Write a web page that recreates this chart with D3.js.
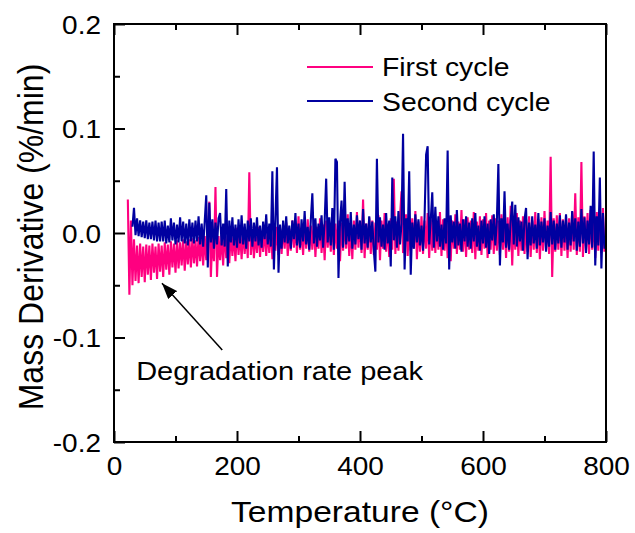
<!DOCTYPE html>
<html><head><meta charset="utf-8">
<script src="https://cdn.jsdelivr.net/npm/d3@7"></script>
<style>
body{margin:0;background:#fff}
svg{display:block;font-family:"Liberation Sans",Arial,sans-serif}
</style>
</head><body><svg id="c" width="635" height="533"></svg>
<script>
// ---------------- data ----------------
const seriesNames = ["First cycle", "Second cycle"];
const seriesColors = ["#FF0080", "#0000A0"];
const firstCycleStartT = 22.5;   // °C, first sample of first cycle
const secondCycleStartT = 30;    // °C, first sample of second cycle
const sampleStepT = 2.5;         // °C between samples

// Mass derivative (%/min), first cycle
const firstCycle = [
 .032,-.059,.012,-.050,-.006,-.046,-.012,-.048,-.010,-.042,-.013,-.047,-.011,-.040,-.012,-.045,-.010,-.038,-.013,-.044,
 -.010,-.037,-.012,-.042,-.009,-.035,-.011,-.040,-.008,-.033,-.010,-.038,-.007,-.034,-.009,-.031,-.006,-.036,-.008,-.030,
 -.006,-.033,-.005,-.029,-.007,-.032,-.004,-.027,-.006,-.031,-.003,-.026,-.005,.030,-.042,-.004,-.027,.044,-.042,-.003,
 -.026,-.002,-.031,.004,-.024,-.003,-.029,.002,-.022,.000,-.027,.005,-.021,-.001,-.025,.003,-.020,.001,-.024,.058,
 -.021,.004,-.024,.000,-.019,.006,-.023,.002,-.018,.005,-.022,.003,-.019,.007,-.025,.002,-.017,.006,-.021,.004,
 -.020,.006,-.015,.010,-.022,.004,-.017,.012,-.014,.008,-.019,.016,-.016,.005,-.021,.009,-.015,.013,-.018,.007,
 -.016,.011,-.023,.006,-.015,.014,-.019,.008,-.026,.012,-.014,.010,-.018,.017,-.021,.009,-.015,.012,-.027,.010,
 -.017,.013,-.015,.018,-.022,.008,-.025,.012,-.016,.020,-.014,.011,-.019,.032,-.024,.009,-.016,.015,-.020,.012,
 -.021,.010,-.016,.017,-.026,.012,-.015,.019,-.018,.009,-.023,.014,-.016,.052,-.020,.011,-.017,.015,.040,-.019,
 -.016,.018,-.022,.010,-.017,.014,-.015,.021,-.025,.011,-.018,.016,-.020,.012,-.015,.019,-.024,.013,-.017,.015,
 -.019,.011,-.016,.020,-.022,.013,-.017,.010,-.024,.016,-.027,.012,-.015,.018,-.020,.011,-.016,.022,-.018,.013,
 -.023,.015,-.016,.012,-.019,.020,-.025,.011,-.017,.016,-.021,.013,-.015,.019,-.024,.012,-.016,.017,-.020,.014,
 -.017,.012,-.021,.018,-.016,.013,-.024,.015,-.018,.026,-.031,.014,-.016,.019,-.022,.012,-.017,.016,-.020,.013,
 -.018,.016,-.023,.012,-.016,.020,-.019,.013,-.025,.015,-.017,.021,-.016,.012,-.020,.073,-.042,.014,-.018,.017,
 -.016,.019,-.022,.013,-.017,.016,-.024,.014,-.018,.020,-.016,.038,-.021,.015,-.018,.068,-.023,.016,-.017,.019,
 -.020,.022,-.016,.018,-.024,.020,-.017,.021,-.019,.024,-.018
];

// Mass derivative (%/min), second cycle
const secondCycle = [
 .006,.024,-.002,.014,-.003,.012,-.004,.011,-.005,.012,-.006,.010,-.006,.011,-.007,.012,-.008,.010,-.008,.011,
 -.008,.012,-.010,.007,-.009,.014,-.007,.010,-.011,.008,-.009,.015,-.008,.011,-.010,.009,-.012,.013,-.008,.010,
 -.010,.012,-.008,.016,-.011,.009,-.013,.011,.036,-.033,.029,-.009,.013,-.015,.010,-.011,.014,.019,-.012,.009,
 -.013,.042,-.032,.012,-.009,.015,-.012,.008,-.014,.013,-.010,.017,-.011,.009,-.015,.012,-.008,.014,-.013,.010,
 -.008,.015,-.012,.007,-.014,.011,-.006,.018,-.011,.009,-.013,.059,-.035,.014,.063,-.038,.008,-.015,.012,-.009,
 .016,-.010,.007,-.015,.012,-.006,.019,-.012,.009,-.014,.013,-.008,.021,-.011,.006,-.016,.012,.038,-.010,.014,
 -.013,.009,-.007,.017,-.014,.011,.052,-.009,.015,-.012,.024,-.016,.071,.068,-.043,.010,.031,-.014,.049,-.011,
 .014,-.008,.020,-.015,.008,-.011,.017,-.006,.012,-.016,.023,-.010,.009,-.014,.016,-.009,.011,-.017,-.037,.071,
 -.009,.015,-.013,.008,-.016,.019,-.010,.012,-.032,.053,-.007,.016,-.014,.021,-.011,.009,.095,-.035,.014,-.008,
 .059,-.040,.010,-.015,.018,-.009,.013,-.012,.007,-.017,.015,.075,.083,-.011,.012,.039,-.014,.025,-.008,.016,
 -.013,.008,-.016,.014,-.010,.079,-.035,.017,-.009,.011,-.015,.022,-.012,.009,-.018,.013,-.008,.016,-.013,.010,
 -.015,.014,-.008,.019,-.013,.007,-.017,.012,-.010,.016,-.014,.009,-.020,.013,-.007,.018,-.012,.011,.066,-.031,
 .014,-.009,.040,-.014,.009,-.016,.012,.030,-.011,.027,-.013,.015,-.008,.011,-.017,.013,.024,-.025,.010,-.012,
 .016,-.010,.008,-.015,.019,-.012,.011,-.009,.014,-.018,.007,-.013,.020,-.011,.012,-.016,.009,-.010,.017,-.014,
 .012,-.009,.018,-.016,.010,-.012,.021,-.008,.014,-.017,.011,-.013,.023,-.010,.015,-.019,.012,-.011,.026,-.014,
 .078,-.031,.016,-.012,.053,-.034,.019,-.015
];

const xDomain = [0, 800];
const yDomain = [-0.2, 0.2];
const xMajorTicks = [0, 200, 400, 600, 800];
const xMajorLabels = ["0", "200", "400", "600", "800"];
const xMinorTicks = [100, 300, 500, 700];
const yMajorTicks = [-0.2, -0.1, 0, 0.1, 0.2];
const yMajorLabels = ["-0.2", "-0.1", "0.0", "0.1", "0.2"];
const yMinorTicks = [-0.15, -0.05, 0.05, 0.15];
const xTitle = "Temperature (\u00B0C)";
const yTitle = "Mass Derivative (%/min)";
const annotationText = "Degradation rate peak";
const annotationTextAt = [36, -0.1407];   // data coords (T, value)
const arrowTail = [176, -0.112];
const arrowTip = [78, -0.048];

// ---------------- drawing ----------------
const svg = d3.select("#c");
const L = 114, R = 606, T = 24, B = 442;
const SX = 1.12; // horizontal glyph stretch seen in the reference

const x = d3.scaleLinear().domain(xDomain).range([L, R]);
const y = d3.scaleLinear().domain(yDomain).range([B, T]);

function stretchedText(g, px, py, str, size, anchor, sx) {
  return g.append("text")
    .attr("transform", `translate(${px},${py}) scale(${sx},1)`)
    .attr("text-anchor", anchor)
    .attr("font-size", size)
    .attr("fill", "#000")
    .text(str);
}

// series
const line = d3.line().x(d => x(d[0])).y(d => y(d[1]));
const series = [
  firstCycle.map((v, i) => [firstCycleStartT + i * sampleStepT, v]),
  secondCycle.map((v, i) => [secondCycleStartT + i * sampleStepT, v])
];
series.forEach((pts, k) => {
  svg.append("path")
    .attr("d", line(pts))
    .attr("fill", "none")
    .attr("stroke", seriesColors[k])
    .attr("stroke-width", 2.1)
    .attr("stroke-linejoin", "miter")
    .attr("stroke-miterlimit", 1.5);
});

// axes (ticks inward)
function styleAxis(g) {
  g.select(".domain").remove();
  g.selectAll(".tick line").attr("stroke", "#000").attr("stroke-width", 2);
}
const MAJ = 11, MIN = 6;
// bottom
const gb = svg.append("g").attr("transform", `translate(0,${B})`);
gb.call(d3.axisBottom(x).tickValues(xMajorTicks).tickSizeInner(-MAJ).tickSizeOuter(0)
  .tickFormat((d, i) => xMajorLabels[i]));
styleAxis(gb);
gb.selectAll(".tick text").attr("y", null).attr("dy", null)
  .attr("font-size", 25).attr("font-family", null).attr("fill", "#000")
  .attr("transform", `translate(0,33) scale(${SX},1)`);
const gbm = svg.append("g").attr("transform", `translate(0,${B})`);
gbm.call(d3.axisBottom(x).tickValues(xMinorTicks).tickSizeInner(-MIN).tickSizeOuter(0).tickFormat(""));
styleAxis(gbm);
// top (ticks only)
const gt = svg.append("g").attr("transform", `translate(0,${T})`);
gt.call(d3.axisTop(x).tickValues(xMajorTicks).tickSizeInner(-MAJ).tickSizeOuter(0).tickFormat(""));
styleAxis(gt);
const gtm = svg.append("g").attr("transform", `translate(0,${T})`);
gtm.call(d3.axisTop(x).tickValues(xMinorTicks).tickSizeInner(-MIN).tickSizeOuter(0).tickFormat(""));
styleAxis(gtm);
// left
const gl = svg.append("g").attr("transform", `translate(${L},0)`);
gl.call(d3.axisLeft(y).tickValues(yMajorTicks).tickSizeInner(-MAJ).tickSizeOuter(0)
  .tickFormat((d, i) => yMajorLabels[i]));
styleAxis(gl);
gl.selectAll(".tick text").attr("x", null).attr("dy", null)
  .attr("font-size", 25).attr("font-family", null).attr("fill", "#000")
  .attr("text-anchor", "end")
  .attr("transform", `translate(-13,9) scale(${SX},1)`);
const glm = svg.append("g").attr("transform", `translate(${L},0)`);
glm.call(d3.axisLeft(y).tickValues(yMinorTicks).tickSizeInner(-MIN).tickSizeOuter(0).tickFormat(""));
styleAxis(glm);

// frame
svg.append("rect").attr("x", L).attr("y", T).attr("width", R - L).attr("height", B - T)
  .attr("fill", "none").attr("stroke", "#000").attr("stroke-width", 2);

// axis titles
stretchedText(svg, (L + R) / 2, 522, xTitle, 30, "middle", SX);
svg.append("text")
  .attr("transform", `translate(43,${(T + B) / 2 + 4}) scale(1.1,1) rotate(-90)`)
  .attr("text-anchor", "middle").attr("font-size", 32).attr("fill", "#000")
  .text(yTitle);

// legend
const legendRows = [{y: 67, base: 76}, {y: 101, base: 111}];
seriesNames.forEach((name, k) => {
  svg.append("line").attr("x1", 307).attr("x2", 373)
    .attr("y1", legendRows[k].y).attr("y2", legendRows[k].y)
    .attr("stroke", seriesColors[k]).attr("stroke-width", 2);
  stretchedText(svg, 382, legendRows[k].base, name, 26, "start", 1.09);
});

// annotation
svg.append("defs").append("marker")
  .attr("id", "ah").attr("viewBox", "0 0 16 12").attr("refX", 16).attr("refY", 6)
  .attr("markerWidth", 16).attr("markerHeight", 12).attr("markerUnits", "userSpaceOnUse")
  .attr("orient", "auto")
  .append("path").attr("d", "M0,0 L16,6 L0,12 Z").attr("fill", "#000");
svg.append("line")
  .attr("x1", x(arrowTail[0])).attr("y1", y(arrowTail[1]))
  .attr("x2", x(arrowTip[0])).attr("y2", y(arrowTip[1]))
  .attr("stroke", "#000").attr("stroke-width", 1.5)
  .attr("marker-end", "url(#ah)");
stretchedText(svg, x(annotationTextAt[0]), y(annotationTextAt[1]), annotationText, 25, "start", 1.16);
</script>
</body></html>
